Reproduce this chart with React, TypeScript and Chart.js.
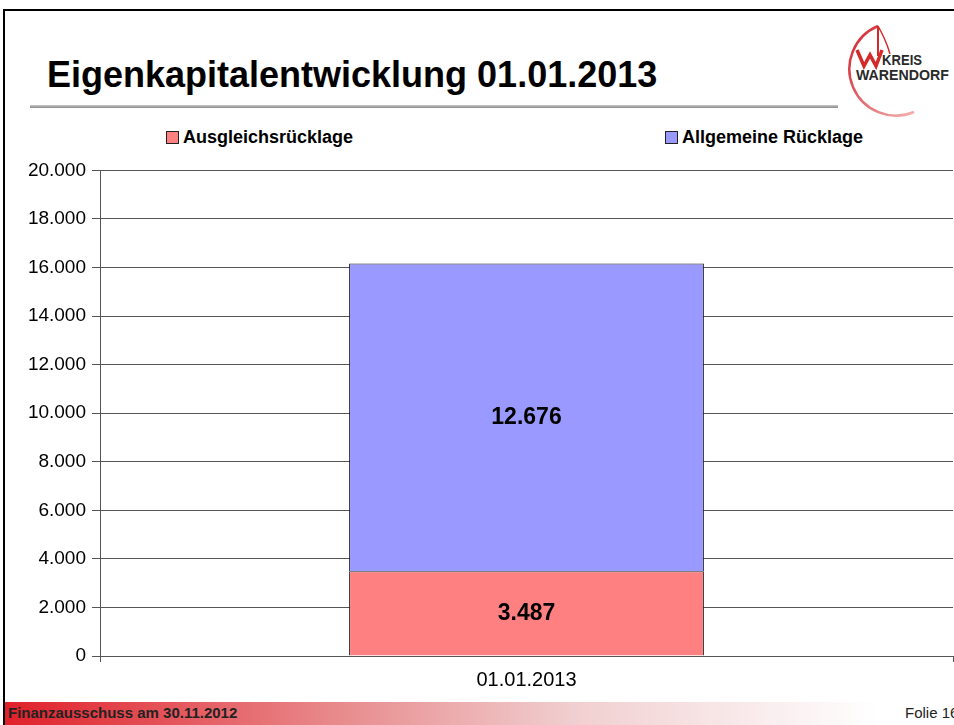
import React, { useEffect, useRef } from "react";
import { Chart, registerables } from "chart.js";

Chart.register(...registerables);

const categories = ["01.01.2013"];
const seriesNames = ["Ausgleichsrücklage", "Allgemeine Rücklage"];
const ausgleich = [3487];
const allgemein = [12676];
const seriesColors = ["#FF8080", "#9999FF"];
const yTicks = [0, 2000, 4000, 6000, 8000, 10000, 12000, 14000, 16000, 18000, 20000];

const fmt = (v: number) => v.toLocaleString("de-DE");

const FONT = "'Liberation Sans', Arial, Helvetica, sans-serif";

const labelPlugin = {
  id: "segLabels",
  afterDatasetsDraw(chart: any) {
    const ctx = chart.ctx;
    ctx.save();
    ctx.font = `bold 23px ${FONT}`;
    ctx.fillStyle = "#000";
    ctx.textAlign = "center";
    ctx.textBaseline = "middle";
    chart.data.datasets.forEach((ds: any, di: number) => {
      const meta = chart.getDatasetMeta(di);
      meta.data.forEach((el: any, i: number) => {
        const y = (el.y + el.base) / 2;
        ctx.fillText(fmt(ds.data[i]), el.x, y);
      });
    });
    ctx.restore();
  },
};

function ChartBox() {
  const ref = useRef<HTMLCanvasElement>(null);
  useEffect(() => {
    if (!ref.current) return;
    const chart = new Chart(ref.current, {
      type: "bar",
      data: {
        labels: categories,
        datasets: [
          {
            label: seriesNames[0],
            data: ausgleich,
            backgroundColor: seriesColors[0],
            borderColor: "#222",
            borderWidth: 1,
            barPercentage: 1,
            categoryPercentage: 0.416,
          },
          {
            label: seriesNames[1],
            data: allgemein,
            backgroundColor: seriesColors[1],
            borderColor: "#222",
            borderWidth: 1,
            barPercentage: 1,
            categoryPercentage: 0.416,
          },
        ],
      },
      options: {
        animation: false,
        responsive: false,
        maintainAspectRatio: false,
        layout: { padding: { top: 12, right: 1, bottom: 0, left: 0 } },
        plugins: { legend: { display: false }, tooltip: { enabled: false } },
        scales: {
          x: {
            stacked: true,
            offset: true,
            grid: {
              display: true,
              drawOnChartArea: false,
              offset: true,
              tickLength: 6,
              color: "#555",
            },
            border: { display: true, color: "#555", width: 1 },
            ticks: { color: "#000", font: { family: FONT, size: 20 }, padding: 6 },
            afterFit: (s: any) => {
              s.height = 44;
            },
          },
          y: {
            stacked: true,
            min: 0,
            max: 20000,
            afterBuildTicks: (s: any) => {
              s.ticks = yTicks.map((v) => ({ value: v }));
            },
            grid: { color: "#555", tickLength: 8, lineWidth: 1 },
            border: { display: true, color: "#555", width: 1 },
            ticks: {
              color: "#000",
              font: { family: FONT, size: 19 },
              padding: 6,
              callback: (v: any) => fmt(Number(v)),
            },
            afterFit: (s: any) => {
              s.width = 100;
            },
          },
        },
      },
      plugins: [labelPlugin],
    });
    return () => chart.destroy();
  }, []);
  return (
    <canvas
      ref={ref}
      width={954}
      height={547}
      style={{ position: "absolute", left: 0, top: 153, width: 954, height: 547 }}
    />
  );
}

export default function App() {
  useEffect(() => {
    document.body.style.margin = "0";
  }, []);
  return (
    <div
      style={{
        position: "absolute",
        left: 0,
        top: 0,
        width: 954,
        height: 725,
        overflow: "hidden",
        background: "#fff",
        fontFamily: FONT,
      }}
    >
      {/* slide frame */}
      <div style={{ position: "absolute", left: 3, top: 9, width: 960, height: 2, background: "#000" }} />
      <div style={{ position: "absolute", left: 3, top: 9, width: 2, height: 720, background: "#000" }} />
      {/* title */}
      <div
        style={{
          position: "absolute",
          left: 47,
          top: 54,
          fontSize: 36,
          fontWeight: "bold",
          color: "#000",
          whiteSpace: "nowrap",
          lineHeight: "42px",
        }}
      >
        Eigenkapitalentwicklung 01.01.2013
      </div>
      <div
        style={{
          position: "absolute",
          left: 30,
          top: 105,
          width: 808,
          height: 3,
          background: "linear-gradient(to bottom, #c8c8c8, #8a8a8a)",
        }}
      />
      {/* logo */}
      <svg
        style={{ position: "absolute", left: 836, top: 20 }}
        width={118}
        height={100}
        viewBox="0 0 118 100"
      >
        <defs>
          <linearGradient id="arcg" x1="0" y1="0" x2="1" y2="1">
            <stop offset="0" stopColor="#d0202a" />
            <stop offset="1" stopColor="#f3b0b0" />
          </linearGradient>
        </defs>
        <path d="M 42 6 A 44 44 0 1 0 78 92" fill="none" stroke="url(#arcg)" strokeWidth={2.5} />
        <path d="M 42 6 L 42 36" stroke="#d42a2a" strokeWidth={2} />
        <path d="M 42 6 Q 50 20 54 34" fill="none" stroke="#d42a2a" strokeWidth={1.5} />
        <path d="M 21 30 L 28 46 L 34 35 L 40 46 L 46 30" fill="none" stroke="#d42a2a" strokeWidth={3.5} />
        <text x={46} y={45} fontFamily={FONT} fontWeight="bold" fontSize={15} fill="#2a2a2a" textLength={40} lengthAdjust="spacingAndGlyphs">
          KREIS
        </text>
        <text x={20} y={60} fontFamily={FONT} fontWeight="bold" fontSize={15} fill="#2a2a2a" textLength={93} lengthAdjust="spacingAndGlyphs">
          WARENDORF
        </text>
      </svg>
      {/* legend */}
      {seriesNames.map((n, i) => (
        <div
          key={n}
          style={{
            position: "absolute",
            left: i === 0 ? 166 : 665,
            top: 127,
            display: "flex",
            alignItems: "center",
            fontSize: 18,
            fontWeight: "bold",
            color: "#000",
            whiteSpace: "nowrap",
            lineHeight: "20px",
          }}
        >
          <span
            style={{
              display: "inline-block",
              width: 11,
              height: 11,
              background: seriesColors[i],
              border: "1px solid #222",
              marginRight: 4,
            }}
          />
          {n}
        </div>
      ))}
      <ChartBox />
      {/* footer */}
      <div
        style={{
          position: "absolute",
          left: 5,
          top: 702,
          width: 949,
          height: 23,
          background: "linear-gradient(to right, #e0202a 0%, #e88a8c 35%, #f1cfd0 60%, #ffffff 92%)",
        }}
      />
      <div
        style={{
          position: "absolute",
          left: 8,
          top: 704,
          fontSize: 15,
          fontWeight: "bold",
          color: "#222",
          whiteSpace: "nowrap",
          lineHeight: "18px",
        }}
      >
        Finanzausschuss am 30.11.2012
      </div>
      <div
        style={{
          position: "absolute",
          left: 905,
          top: 704,
          fontSize: 15,
          color: "#222",
          whiteSpace: "nowrap",
          lineHeight: "18px",
        }}
      >
        Folie 16
      </div>
    </div>
  );
}
